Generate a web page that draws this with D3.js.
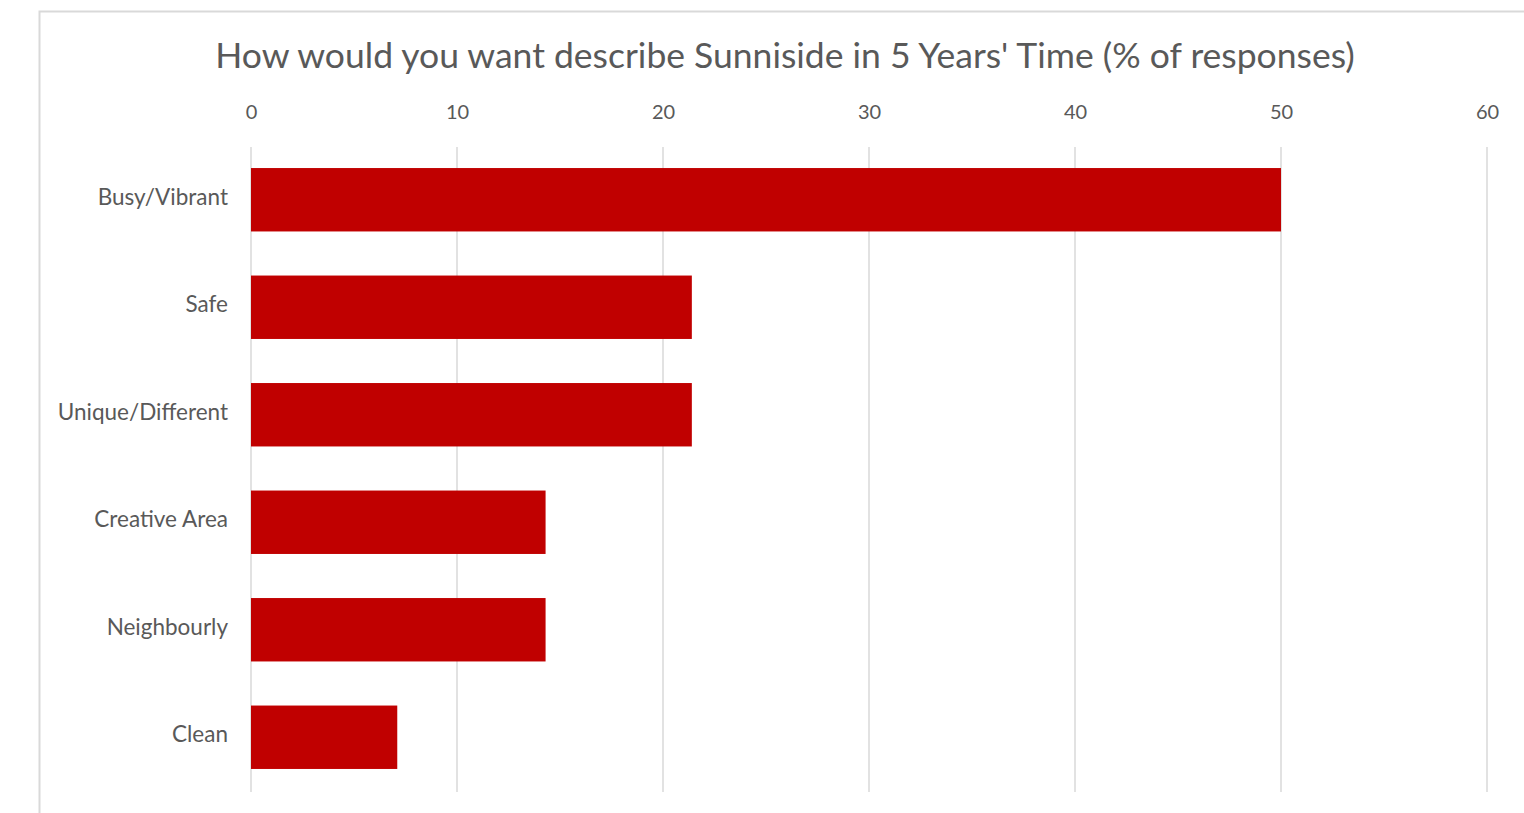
<!DOCTYPE html>
<html>
<head>
<meta charset="utf-8">
<script src="https://cdn.jsdelivr.net/npm/d3@7"></script>
<style>
  html, body { margin: 0; padding: 0; background: #fff; }
  svg { display: block; }
  text { font-family: Lato, "Open Sans", sans-serif; }
</style>
</head>
<body>
<script>
const categories = ["Busy/Vibrant", "Safe", "Unique/Different", "Creative Area", "Neighbourly", "Clean"];
const values = [50, 21.4, 21.4, 14.3, 14.3, 7.1];
const xTicks = [0, 10, 20, 30, 40, 50, 60];
const title = "How would you want describe Sunniside in 5 Years' Time (% of responses)";

const W = 1524, H = 813;
const svg = d3.select("body").append("svg").attr("width", W).attr("height", H);

// outer chart border
svg.append("rect").attr("x", 39.5).attr("y", 11.5).attr("width", 1600).attr("height", 900)
  .attr("fill", "#fff").attr("stroke", "#d9d9d9").attr("stroke-width", 2);

const x = d3.scaleLinear().domain([0, 60]).range([251, 1487]);
const y = d3.scaleBand().domain(categories).range([146, 791]).paddingInner(0.41).paddingOuter(0.205);

// gridlines
svg.append("g").selectAll("line").data(xTicks).join("line")
  .attr("x1", d => x(d)).attr("x2", d => x(d))
  .attr("y1", 147).attr("y2", 792)
  .attr("stroke", "#d9d9d9").attr("stroke-width", 1.5);

// top axis labels
const xAxis = d3.axisTop(x).tickValues(xTicks).tickSize(0).tickPadding(0);
const gx = svg.append("g").attr("transform", "translate(0,119)").call(xAxis);
gx.select(".domain").remove();
gx.selectAll("text").attr("font-size", 20).attr("fill", "#595959")
  .attr("dy", 0).attr("font-family", "Lato, sans-serif");

// y axis labels
const yAxis = d3.axisLeft(y).tickSize(0).tickPadding(0);
const gy = svg.append("g").attr("transform", "translate(228,-2)").call(yAxis);
gy.select(".domain").remove();
gy.selectAll("text").attr("font-size", 22.5).attr("fill", "#595959")
  .attr("font-family", "Lato, sans-serif");

// bars
svg.append("g").selectAll("rect").data(values).join("rect")
  .attr("x", x(0))
  .attr("y", (d, i) => y(categories[i]))
  .attr("width", d => x(d) - x(0))
  .attr("height", y.bandwidth())
  .attr("fill", "#c00000");

// title
svg.append("text").attr("x", 785).attr("y", 68).attr("text-anchor", "middle")
  .attr("font-size", 35.5).attr("fill", "#595959").text(title);
</script>
</body>
</html>
